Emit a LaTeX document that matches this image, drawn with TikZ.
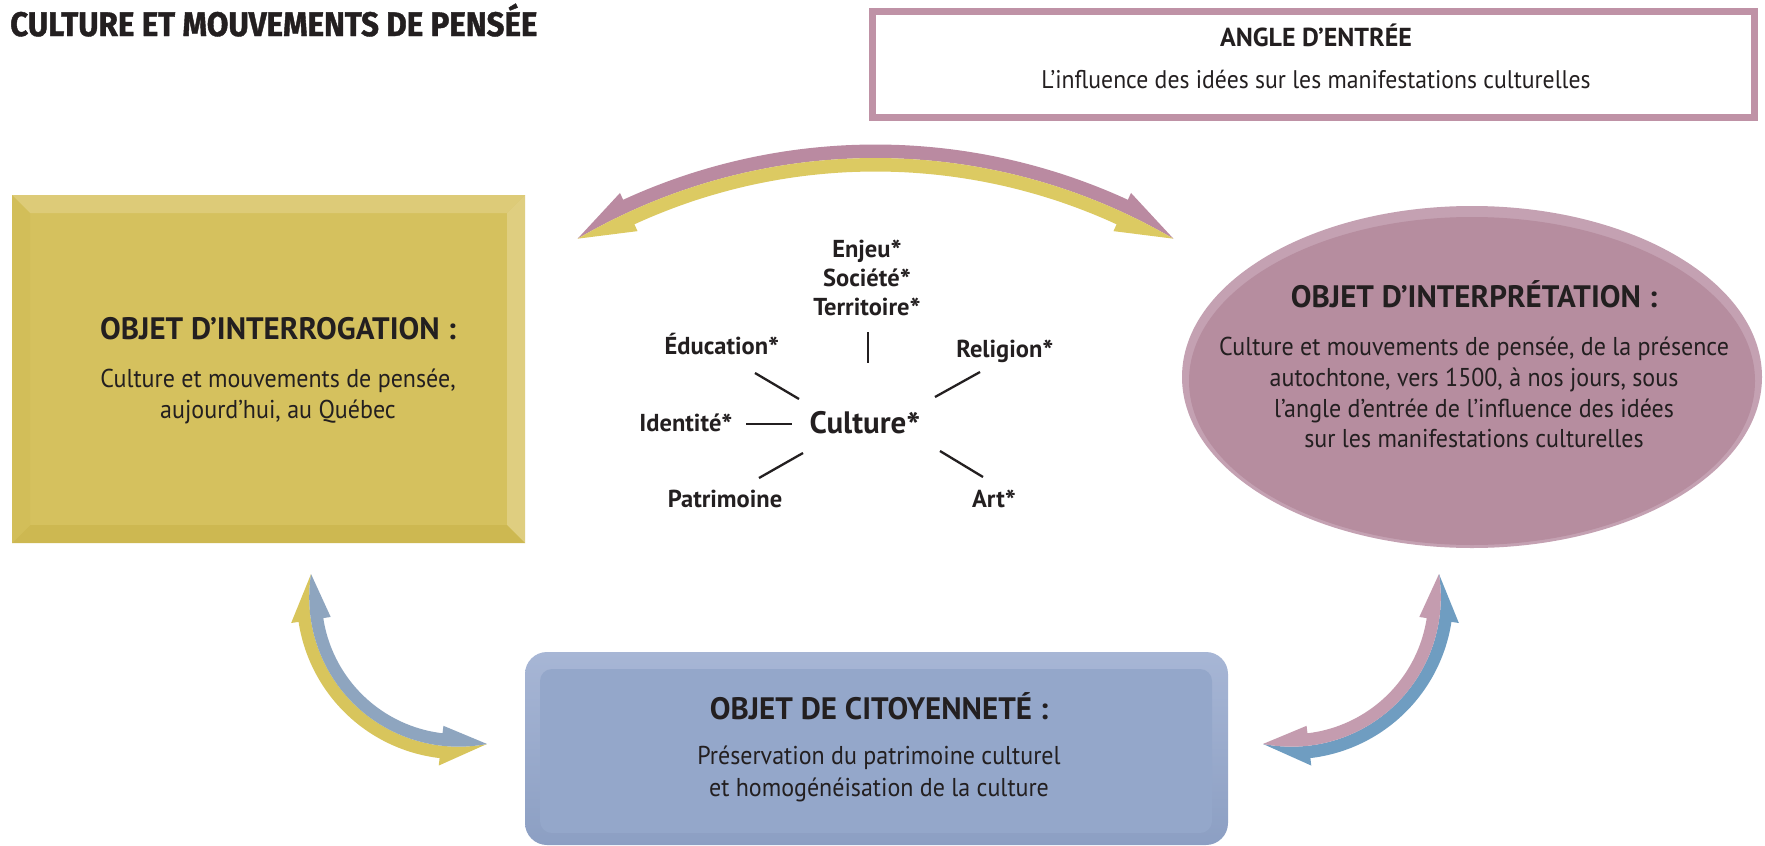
\documentclass[tikz,border=0pt]{standalone}
\usepackage{fontspec}
\setmainfont{PT Sans}[UprightFeatures={FakeStretch=0.93}]
\newfontfamily\titlefont{Fira Sans}[BoldFeatures={FakeStretch=0.92,FakeBold=1.2}]
\definecolor{txt}{HTML}{231F20}
\definecolor{yelMain}{HTML}{D5C15E}
\definecolor{yelTop}{HTML}{DDCB78}
\definecolor{yelRight}{HTML}{DFCE80}
\definecolor{yelBot}{HTML}{CDB851}
\definecolor{yelLeft}{HTML}{D2BE59}
\definecolor{mauveRim}{HTML}{C4A1B2}
\definecolor{mauveMain}{HTML}{B68D9F}
\definecolor{blueTop}{HTML}{A7B6D5}
\definecolor{blueBot}{HTML}{8C9FC3}
\definecolor{blueMain}{HTML}{94A7CA}
\definecolor{frameCol}{HTML}{BF92A6}
\definecolor{arcPurple}{HTML}{BA8AA1}
\definecolor{arcYellow}{HTML}{DCCA62}
\definecolor{arrYellow}{HTML}{D8C55C}
\definecolor{arrGrey}{HTML}{8EA5BF}
\definecolor{arrMauve}{HTML}{C49CAF}
\definecolor{arrBlue}{HTML}{6F9DC1}
\newcommand{\astk}{\raisebox{-0.2em}{\scalebox{1.2}{*}}}
% half of a two-tone curved double arrow
% #1 cx, #2 cy, #3 R (centre line), #4 tip angle 1, #5 tip angle 2,
% #6 head angle (signed, from #4 towards #5), #7 body edge radius, #8 barb radius, #9 colour
\newcommand{\halfband}[9]{%
  \pgfmathsetmacro\hbA{#4+(#6)}%
  \pgfmathsetmacro\hbB{#5-(#6)}%
  \fill[#9] ({#1+#3*cos(#4)},{#2+#3*sin(#4)})
    -- ({#1+#8*cos(\hbA)},{#2+#8*sin(\hbA)})
    -- plot[domain=\hbA:\hbB,samples=60,variable=\t] ({#1+#7*cos(\t)},{#2+#7*sin(\t)})
    -- ({#1+#8*cos(\hbB)},{#2+#8*sin(\hbB)})
    -- ({#1+#3*cos(#5)},{#2+#3*sin(#5)})
    -- plot[domain=#5:#4,samples=60,variable=\t] ({#1+#3*cos(\t)},{#2+#3*sin(\t)})
    -- cycle;}
\begin{document}
\begin{tikzpicture}[x=1pt,y=-1pt,
  ttl/.style={font=\bfseries\fontsize{31}{31}\selectfont, text=txt, inner sep=0pt, anchor=base},
  bdy/.style={font=\fontsize{25.8}{25.8}\selectfont, text=txt, inner sep=0pt, anchor=base},
  lbl/.style={font=\bfseries\fontsize{24.5}{24.5}\selectfont, text=txt, inner sep=0pt, anchor=base},
  spoke/.style={draw=txt, line width=2.3pt}]
\useasboundingbox (0,0) rectangle (1765,846);
\fill[white] (0,0) rectangle (1765,846);

% title
\node[font=\titlefont\bfseries\fontsize{34}{34}\selectfont, text=txt, inner sep=0pt, anchor=base west] (title) at (10,36) {CULTURE ET MOUVEMENTS DE PENSÉE};

% angle d'entree box
\node[draw=frameCol, line width=7pt, fill=white, minimum width=882pt, minimum height=106pt, inner sep=0pt] (anglebox) at (1313.5,64.5) {};
\node[lbl, font=\bfseries\fontsize{26}{26}\selectfont] (angT) at (1316,46) {ANGLE D’ENTRÉE};
\node[bdy, font=\fontsize{25.5}{25.5}\selectfont] (angB) at (1316,88) {L’influence des idées sur les manifestations culturelles};

% yellow bevelled box
\fill[yelMain] (12,195) rectangle (525,543);
\fill[yelTop] (12,195) -- (525,195) -- (507,213) -- (30,213) -- cycle;
\fill[yelRight] (525,195) -- (525,543) -- (507,525) -- (507,213) -- cycle;
\fill[yelBot] (12,543) -- (525,543) -- (507,525) -- (30,525) -- cycle;
\fill[yelLeft] (12,195) -- (30,213) -- (30,525) -- (12,543) -- cycle;
\node[ttl] (interroT) at (278,339) {OBJET D’INTERROGATION :};
\node[bdy] (interroB1) at (278,387) {Culture et mouvements de pensée,};
\node[bdy] (interroB2) at (278,418) {aujourd’hui, au Québec};

% mauve ellipse
\fill[mauveRim] (1472,377) ellipse [x radius=290, y radius=171];
\fill[mauveMain] (1472,381) ellipse [x radius=283, y radius=164];
\node[ttl] (interpT) at (1474,307) {OBJET D’INTERPRÉTATION :};
\node[bdy] (interpB1) at (1474,355) {Culture et mouvements de pensée, de la présence};
\node[bdy] (interpB2) at (1474,386) {autochtone, vers 1500, à nos jours, sous};
\node[bdy] (interpB3) at (1474,417) {l’angle d’entrée de l’influence des idées};
\node[bdy] (interpB4) at (1474,447) {sur les manifestations culturelles};

% blue rounded box
\shade[top color=blueTop, bottom color=blueBot, rounded corners=22pt] (525,652) rectangle (1228,845);
\fill[blueMain, rounded corners=12pt] (540,669) rectangle (1212,833);
\node[ttl] (citT) at (879,719) {OBJET DE CITOYENNETÉ :};
\node[bdy] (citB1) at (879,764) {Préservation du patrimoine culturel};
\node[bdy] (citB2) at (879,796) {et homogénéisation de la culture};

% curved double arrows
\halfband{875.5}{748.5}{590.5}{-120.3}{-59.7}{5.6}{604}{611.5}{arcPurple}
\halfband{875.5}{748.5}{590.5}{-120.3}{-59.7}{5.6}{577}{569.5}{arcYellow}
\halfband{458.5}{597.4}{149.3}{189}{79}{-17.7}{161.8}{169.3}{arrYellow}
\halfband{458.5}{597.4}{149.3}{189}{79}{-17.7}{136.8}{129.3}{arrGrey}
\halfband{1291.5}{597.4}{149.3}{-9}{101}{17.7}{161.8}{169.3}{arrBlue}
\halfband{1291.5}{597.4}{149.3}{-9}{101}{17.7}{136.8}{129.3}{arrMauve}

% central concept star
\node[lbl, font=\bfseries\fontsize{31}{31}\selectfont] (culture) at (865,433) {Culture\astk};
\node[lbl] (enjeu) at (867,257) {Enjeu\astk};
\node[lbl] (societe) at (867,286) {Société\astk};
\node[lbl] (territoire) at (867,315) {Territoire\astk};
\node[lbl] (education) at (722,354) {Éducation\astk};
\node[lbl] (religion) at (1005,357) {Religion\astk};
\node[lbl] (identite) at (686,431) {Identité\astk};
\node[lbl] (patrimoine) at (725,507) {Patrimoine};
\node[lbl] (art) at (994,507) {Art\astk};
\coordinate (sTa) at (868,332); \coordinate (sTb) at (868,363);
\coordinate (sEa) at (755,373); \coordinate (sEb) at (799,399);
\coordinate (sRa) at (980,372); \coordinate (sRb) at (935,397);
\coordinate (sIa) at (746,424); \coordinate (sIb) at (792,424);
\coordinate (sPa) at (759,478); \coordinate (sPb) at (803,453);
\coordinate (sAa) at (983,477); \coordinate (sAb) at (940,451);
\draw[spoke] (sTa) -- (sTb);
\draw[spoke] (sEa) -- (sEb);
\draw[spoke] (sRa) -- (sRb);
\draw[spoke] (sIa) -- (sIb);
\draw[spoke] (sPa) -- (sPb);
\draw[spoke] (sAa) -- (sAb);
\end{tikzpicture}
\end{document}
